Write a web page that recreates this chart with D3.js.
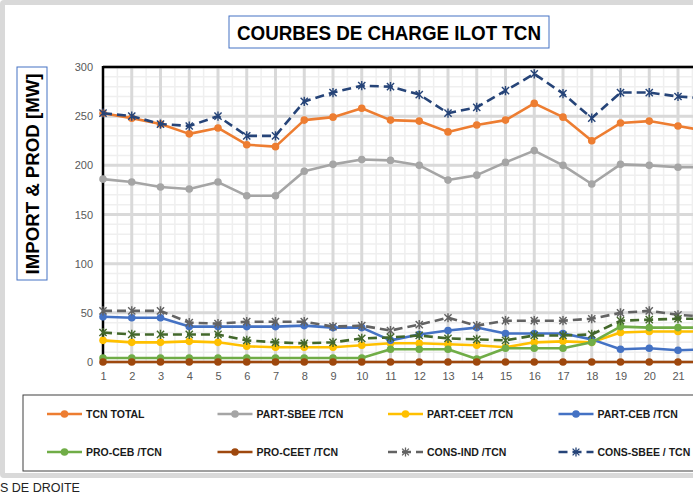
<!DOCTYPE html>
<html>
<head>
<meta charset="utf-8">
<script src="https://cdn.jsdelivr.net/npm/d3@7"></script>
<style>
  body { margin: 0; background: #fff; overflow: hidden; }
  svg { display: block; }
</style>
</head>
<body>
<div id="chart"></div>
<script>

// hours on the x axis (chart continues past the right edge)
const hours = d3.range(1, 25);
const hourLabels = d3.range(1, 22);

// series values (hours 1..22)
const tcnTotal  = [253, 248, 242, 232, 238, 221, 219, 246, 249, 258, 246, 245, 234, 241, 246, 263, 249, 225, 243, 245, 240, 235];
const partSbee  = [186, 183, 178, 176, 183, 169, 169, 194, 201, 206, 205, 200, 185, 190, 203, 215, 200, 181, 201, 200, 198, 198];
const partCeet  = [22, 20, 20, 21, 20, 16, 15, 15, 15, 17, 19, 19, 18, 17, 15, 20, 21, 20, 30, 31, 31, 31];
const partCeb   = [46, 45, 45, 36, 36, 36, 36, 37, 35, 35, 22, 28, 32, 35, 29, 29, 29, 23, 13, 14, 12, 13];
const proCeb    = [4, 4, 4, 4, 4, 4, 4, 4, 4, 4, 13, 13, 13, 3, 14, 14, 14, 20, 36, 35, 35, 35];
const proCeet   = [0, 0, 0, 0, 0, 0, 0, 0, 0, 0, 0, 0, 0, 0, 0, 0, 0, 0, 0, 0, 0, 0];
const consInd   = [52, 52, 52, 40, 39, 41, 41, 41, 36, 37, 32, 38, 45, 37, 42, 42, 42, 44, 50, 52, 48, 46];
const consSbee  = [253, 250, 242, 240, 250, 230, 230, 265, 274, 281, 280, 272, 253, 259, 276, 293, 273, 248, 274, 274, 270, 268];
const consOther = [30, 28, 28, 28, 28, 22, 20, 19, 20, 24, 25, 27, 24, 23, 22, 27, 27, 28, 42, 43, 44, 44];

const yTicks = [0, 50, 100, 150, 200, 250, 300];

const series = [
  {name: "TCN TOTAL",        values: tcnTotal,  color: "#ED7D31", dash: null, marker: "circle"},
  {name: "PART-SBEE /TCN",   values: partSbee,  color: "#A5A5A5", dash: null, marker: "circle"},
  {name: "PART-CEET /TCN",   values: partCeet,  color: "#FFC000", dash: null, marker: "circle"},
  {name: "PART-CEB /TCN",    values: partCeb,   color: "#4472C4", dash: null, marker: "circle"},
  {name: "PRO-CEB /TCN",     values: proCeb,    color: "#70AD47", dash: null, marker: "circle"},
  {name: "PRO-CEET /TCN",    values: proCeet,   color: "#9E480E", dash: null, marker: "circle"},
  {name: "CONS-IND /TCN",    values: consInd,   color: "#636363", dash: "9,5", marker: "star"},
  {name: "CONS-SBEE / TCN",  values: consSbee,  color: "#264478", dash: "9,5", marker: "star"},
  {name: "",                 values: consOther, color: "#43682B", dash: "9,5", marker: "star"}
];

const W = 693, H = 498;
const svg = d3.select("#chart").append("svg").attr("width", W).attr("height", H);

// outer chart frame
svg.append("rect").attr("x", 0).attr("y", 0).attr("width", 760).attr("height", 478).attr("rx", 4).attr("fill", "#d9d9d9");
svg.append("rect").attr("x", 5).attr("y", 5).attr("width", 760).attr("height", 468).attr("fill", "#fff");

const plotLeft = 103, plotTop = 67, plotBottom = 362, step = 28.75;

const x = d3.scalePoint().domain(hours).range([plotLeft, plotLeft + step * (hours.length - 1)]);
const y = d3.scaleLinear().domain([0, 300]).range([plotBottom, plotTop]);
const plotRight = x(hours[hours.length - 1]);

// minor grid
const grid = svg.append("g");
grid.selectAll(".hminor").data(d3.range(0, 300, 10).filter(v => v % 50 !== 0))
  .join("line")
  .attr("x1", plotLeft).attr("x2", plotRight)
  .attr("y1", d => y(d)).attr("y2", d => y(d))
  .attr("stroke", "#efefef").attr("stroke-width", 1.5);
grid.selectAll(".vminor").data(hours)
  .join("line")
  .attr("x1", d => x(d) + step / 2).attr("x2", d => x(d) + step / 2)
  .attr("y1", plotTop).attr("y2", plotBottom)
  .attr("stroke", "#efefef").attr("stroke-width", 1.5);

// major grid
grid.selectAll(".hmajor").data(yTicks)
  .join("line")
  .attr("x1", plotLeft).attr("x2", plotRight)
  .attr("y1", d => y(d)).attr("y2", d => y(d))
  .attr("stroke", "#d9d9d9").attr("stroke-width", 3);
grid.selectAll(".vmajor").data(hours.slice(1))
  .join("line")
  .attr("x1", d => x(d)).attr("x2", d => x(d))
  .attr("y1", plotTop).attr("y2", plotBottom)
  .attr("stroke", "#d9d9d9").attr("stroke-width", 3);

// plot border: top and left in black
svg.append("line").attr("x1", plotLeft).attr("x2", plotRight).attr("y1", plotTop).attr("y2", plotTop)
  .attr("stroke", "#000").attr("stroke-width", 2.5);
svg.append("line").attr("x1", plotLeft).attr("x2", plotLeft).attr("y1", plotTop - 1).attr("y2", plotBottom)
  .attr("stroke", "#000").attr("stroke-width", 2.5);

// axes
const yAxis = d3.axisLeft(y).tickValues(yTicks).tickSize(0).tickPadding(10);
svg.append("g").attr("transform", "translate(" + plotLeft + ",0)").call(yAxis)
  .call(g => g.select(".domain").remove())
  .selectAll("text").attr("font-family", "Liberation Sans, Arial, sans-serif").attr("font-size", 11).attr("fill", "#595959");

const xAxis = d3.axisBottom(x).tickValues(hourLabels).tickSize(0).tickPadding(10);
svg.append("g").attr("transform", "translate(0," + plotBottom + ")").call(xAxis)
  .call(g => g.select(".domain").remove())
  .selectAll("text").attr("font-family", "Liberation Sans, Arial, sans-serif").attr("font-size", 11).attr("fill", "#595959");

// star marker path
function starPath(cx, cy, r) {
  return "M" + (cx - r) + "," + (cy - r) + "L" + (cx + r) + "," + (cy + r) +
         "M" + (cx - r) + "," + (cy + r) + "L" + (cx + r) + "," + (cy - r) +
         "M" + cx + "," + (cy - r - 1) + "L" + cx + "," + (cy + r + 1);
}

const line = d3.line().x((d, i) => x(hours[i])).y(d => y(d));

series.forEach(s => {
  const g = svg.append("g");
  g.append("path").datum(s.values)
    .attr("d", line)
    .attr("fill", "none")
    .attr("stroke", s.color)
    .attr("stroke-width", 2.6)
    .attr("stroke-dasharray", s.dash)
    .attr("stroke-linejoin", "round");
  if (s.marker === "circle") {
    g.selectAll("circle").data(s.values).join("circle")
      .attr("cx", (d, i) => x(hours[i])).attr("cy", d => y(d))
      .attr("r", 3.8).attr("fill", s.color);
  } else {
    g.selectAll("path.m").data(s.values).join("path").attr("class", "m")
      .attr("d", (d, i) => starPath(x(hours[i]), y(d), 3.6))
      .attr("fill", "none").attr("stroke", s.color).attr("stroke-width", 1.4);
  }
});

// title
svg.append("rect").attr("x", 229).attr("y", 16).attr("width", 320).attr("height", 32)
  .attr("fill", "#fff").attr("stroke", "#4472C4").attr("stroke-width", 1);
svg.append("text").attr("x", 389).attr("y", 40).attr("text-anchor", "middle")
  .attr("font-family", "Liberation Sans, Arial, sans-serif").attr("font-weight", "bold").attr("font-size", 20)
  .attr("textLength", 304).attr("lengthAdjust", "spacingAndGlyphs")
  .text("COURBES DE CHARGE ILOT TCN");

// y axis title
svg.append("rect").attr("x", 17).attr("y", 67).attr("width", 30).attr("height", 213)
  .attr("fill", "#fff").attr("stroke", "#4472C4").attr("stroke-width", 1);
svg.append("text").attr("transform", "translate(39,174) rotate(-90)").attr("text-anchor", "middle")
  .attr("font-family", "Liberation Sans, Arial, sans-serif").attr("font-weight", "bold").attr("font-size", 18)
  .attr("textLength", 201).attr("lengthAdjust", "spacingAndGlyphs")
  .text("IMPORT & PROD [MW]");

// legend
svg.append("rect").attr("x", 23).attr("y", 395).attr("width", 760).attr("height", 76)
  .attr("fill", "#fff").attr("stroke", "#404040").attr("stroke-width", 1);
const legendItems = series.filter(s => s.name !== "");
const leg = svg.append("g");
legendItems.forEach((s, i) => {
  const col = i % 4, row = Math.floor(i / 4);
  const lx = 47 + col * 170.5, ly = 414 + row * 38;
  const g = leg.append("g");
  g.append("line").attr("x1", lx).attr("x2", lx + 35).attr("y1", ly).attr("y2", ly)
    .attr("stroke", s.color).attr("stroke-width", 2.6).attr("stroke-dasharray", s.dash);
  if (s.marker === "circle") {
    g.append("circle").attr("cx", lx + 17.5).attr("cy", ly).attr("r", 3.8).attr("fill", s.color);
  } else {
    g.append("path").attr("d", starPath(lx + 17.5, ly, 3.4)).attr("fill", "none")
      .attr("stroke", s.color).attr("stroke-width", 1.3);
  }
  g.append("text").attr("x", lx + 39).attr("y", ly + 4)
    .attr("font-family", "Liberation Sans, Arial, sans-serif").attr("font-weight", "bold").attr("font-size", 10.5)
    .attr("fill", "#1a1a1a")
    .text(s.name);
});

// cut text below the chart
svg.append("text").attr("x", 0).attr("y", 492)
  .attr("font-family", "Liberation Sans, Arial, sans-serif").attr("font-size", 12.5).attr("fill", "#222")
  .text("S DE DROITE");

</script>
</body>
</html>
